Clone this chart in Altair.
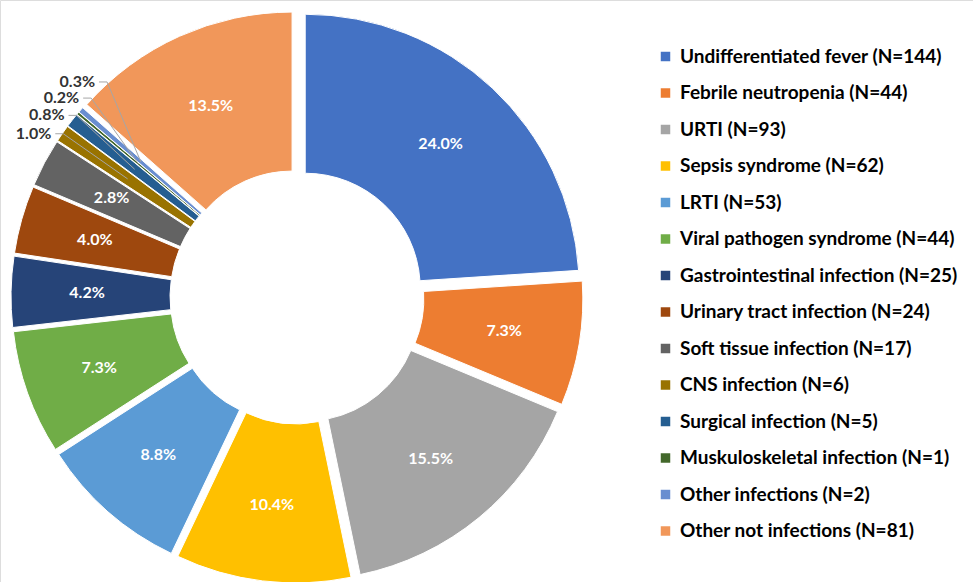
import altair as alt
import pandas as pd

categories = [
    "Undifferentiated fever", "Febrile neutropenia", "URTI", "Sepsis syndrome",
    "LRTI", "Viral pathogen syndrome", "Gastrointestinal infection",
    "Urinary tract infection", "Soft tissue infection", "CNS infection",
    "Surgical infection", "Muskuloskeletal infection", "Other infections",
    "Other not infections",
]
counts = [144, 44, 93, 62, 53, 44, 25, 24, 17, 6, 5, 1, 2, 81]
pct_labels = ["24.0%", "7.3%", "15.5%", "10.4%", "8.8%", "7.3%", "4.2%",
              "4.0%", "2.8%", "1.0%", "0.8%", "0.2%", "0.3%", "13.5%"]
colors = ["#4472C4", "#ED7D31", "#A5A5A5", "#FFC000", "#5B9BD5", "#70AD47",
          "#264478", "#9E480E", "#636363", "#997300", "#255E91", "#43682B",
          "#698ED0", "#F1975A"]

names = [f"{c} (N={n})" for c, n in zip(categories, counts)]
total = sum(counts)

df = pd.DataFrame({
    "idx": list(range(len(counts))),
    "name": names,
    "n": counts,
    "pct": pct_labels,
})

CX, CY = 297, 297
EXPLODE = 12
R_IN, R_OUT = 115, 274
FONT = "Lato"

theta_scale = alt.Scale(domain=[0, total], range=[0, 6.283185307179586])

base = alt.Chart(df).transform_joinaggregate(
    tot="sum(n)"
).transform_window(
    cum="sum(n)", sort=[alt.SortField("idx")], frame=[None, 0]
).transform_calculate(
    start="datum.cum - datum.n",
    end="datum.cum",
    midv="datum.cum - datum.n / 2",
    frac="datum.n / datum.tot",
).transform_calculate(
    ang="datum.midv / datum.tot * 2 * PI",
).transform_calculate(
    cx=f"{CX} + {EXPLODE} * sin(datum.ang)",
    cy=f"{CY} - {EXPLODE} * cos(datum.ang)",
)

xpos = alt.X("cx:Q", scale=None, axis=None)
ypos = alt.Y("cy:Q", scale=None, axis=None)

arcs = base.mark_arc(
    innerRadius=R_IN, outerRadius=R_OUT, stroke="white", strokeWidth=1
).encode(
    theta=alt.Theta("start:Q", scale=theta_scale, stack=False),
    theta2="end:Q",
    x=xpos,
    y=ypos,
    color=alt.Color(
        "name:N",
        scale=alt.Scale(domain=names, range=colors),
        legend=alt.Legend(
            title=None,
            orient="none",
            legendX=656,
            legendY=47,
            symbolType="square",
            symbolSize=90,
            symbolStrokeWidth=0,
            labelFont=FONT,
            labelFontSize=19,
            labelFontWeight="bold",
            labelColor="#000000",
            labelLimit=0,
            rowPadding=16.5,
            labelOffset=5,
        ),
    ),
    order=alt.Order("idx:Q"),
)

inner_text = base.transform_filter("datum.frac >= 0.02").mark_text(
    radius=198, font=FONT, fontSize=16, fontWeight="bold", color="white",
    align="center", baseline="middle",
).encode(
    theta=alt.Theta("midv:Q", scale=theta_scale, stack=False),
    x=xpos,
    y=ypos,
    text="pct:N",
)

small = base.transform_filter("datum.frac < 0.02").transform_window(
    rk="row_number()", sort=[alt.SortField("idx")]
).transform_calculate(
    lang="(299.2 + 4.4 * datum.rk) * PI / 180",
).transform_calculate(
    ax=f"{CX} + 295 * sin(datum.lang)",
    ay=f"{CY} - 295 * cos(datum.lang)",
    px=f"{CX} + {(R_IN + R_OUT) / 2 + EXPLODE} * sin(datum.ang)",
    py=f"{CY} - {(R_IN + R_OUT) / 2 + EXPLODE} * cos(datum.ang)",
).transform_calculate(
    ex="datum.ax + 12",
    sx="datum.ax + 4",
)

leader1 = small.mark_rule(color="#A6A6A6", strokeWidth=1).encode(
    x=alt.X("sx:Q", scale=None, axis=None),
    x2="ex:Q",
    y=alt.Y("ay:Q", scale=None, axis=None),
    y2="ay:Q",
)
leader2 = small.mark_rule(color="#A6A6A6", strokeWidth=1).encode(
    x=alt.X("ex:Q", scale=None, axis=None),
    x2="px:Q",
    y=alt.Y("ay:Q", scale=None, axis=None),
    y2="py:Q",
)
small_text = small.mark_text(
    font=FONT, fontSize=16, fontWeight="bold", color="#333333",
    align="right", baseline="middle",
).encode(
    x=alt.X("ax:Q", scale=None, axis=None),
    y=alt.Y("ay:Q", scale=None, axis=None),
    text="pct:N",
)

chart = alt.layer(arcs, leader1, leader2, inner_text, small_text).properties(
    width=973, height=582, padding=0,
    autosize=alt.AutoSizeParams(type="none"),
).configure_view(stroke=None).configure(background="white")

chart.save("out.html", embed_options={"renderer": "svg", "actions": False})
